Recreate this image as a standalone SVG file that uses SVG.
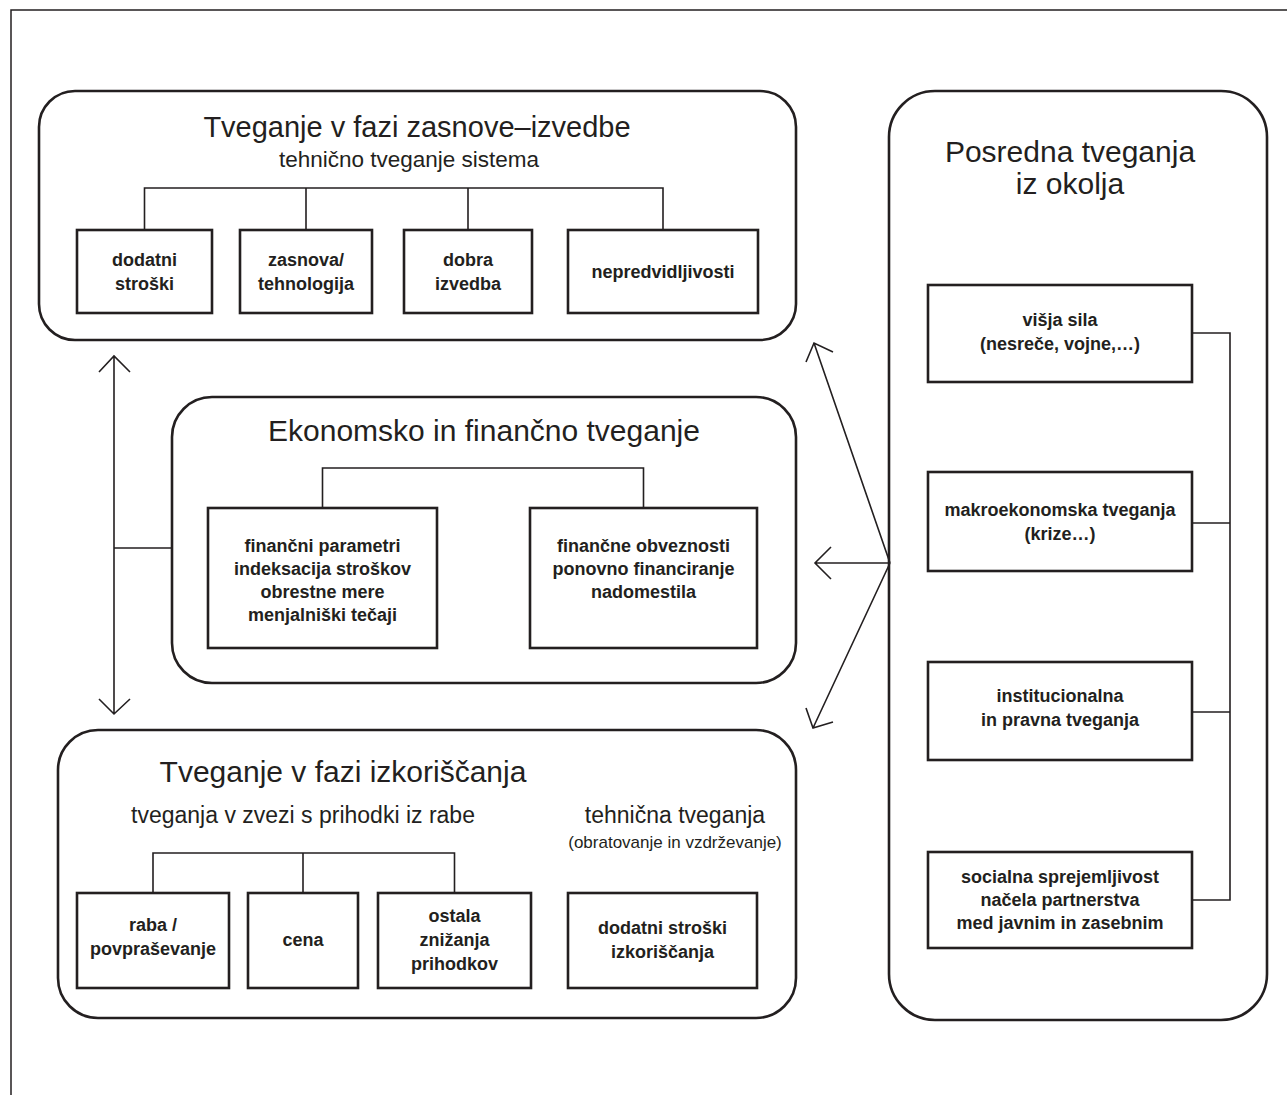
<svg xmlns="http://www.w3.org/2000/svg" width="1287" height="1095" viewBox="0 0 1287 1095">
<style>
.big{fill:none;stroke:#231f20;stroke-width:2.6}
.box{fill:#fff;stroke:#231f20;stroke-width:2.6}
.ln{fill:none;stroke:#231f20;stroke-width:1.6}
.frame{fill:none;stroke:#231f20;stroke-width:1.5}
text{font-family:"Liberation Sans",Arial,sans-serif;fill:#231f20;text-anchor:middle}
.t{font-size:30px}
.s{font-size:23px}
.xs{font-size:17px}
.b{font-size:18px;font-weight:bold}
</style>
<rect width="1287" height="1095" fill="#fff"/>
<path class="frame" d="M11,1095 V10 H1287"/>

<g id="phase-design">
<rect class="big" x="39" y="91" width="757" height="249" rx="36"/>
<text class="t" x="417" y="137" style="font-size:29px">Tveganje v fazi zasnove–izvedbe</text>
<text class="s" x="409" y="167" style="font-size:22.5px">tehnično tveganje sistema</text>
</g>
<g id="n-dodatni"><rect class="box" x="77" y="230" width="135" height="83"/><text class="b" x="144.5" y="266">dodatni</text><text class="b" x="144.5" y="290">stroški</text></g>
<g id="n-zasnova"><rect class="box" x="240" y="230" width="132" height="83"/><text class="b" x="306" y="266">zasnova/</text><text class="b" x="306" y="290">tehnologija</text></g>
<g id="n-dobra"><rect class="box" x="404" y="230" width="128" height="83"/><text class="b" x="468" y="266">dobra</text><text class="b" x="468" y="290">izvedba</text></g>
<g id="n-nepred"><rect class="box" x="568" y="230" width="190" height="83"/><text class="b" x="663" y="278">nepredvidljivosti</text></g>

<g id="phase-econ">
<rect class="big" x="172" y="397" width="624" height="286" rx="40"/>
<text class="t" x="484" y="441">Ekonomsko in finančno tveganje</text>
</g>
<g id="n-finparam"><rect class="box" x="208" y="508" width="229" height="140"/>
<text class="b" x="322.5" y="552">finančni parametri</text><text class="b" x="322.5" y="575">indeksacija stroškov</text><text class="b" x="322.5" y="598">obrestne mere</text><text class="b" x="322.5" y="621">menjalniški tečaji</text></g>
<g id="n-finobv"><rect class="box" x="530" y="508" width="227" height="140"/>
<text class="b" x="643.5" y="552">finančne obveznosti</text><text class="b" x="643.5" y="575">ponovno financiranje</text><text class="b" x="643.5" y="598">nadomestila</text></g>

<g id="phase-operation">
<rect class="big" x="58" y="730" width="738" height="288" rx="40"/>
<text class="t" x="343" y="782">Tveganje v fazi izkoriščanja</text>
<text class="s" x="303" y="823">tveganja v zvezi s prihodki iz rabe</text>
<text class="s" x="675" y="823">tehnična tveganja</text>
<text class="xs" x="675" y="848">(obratovanje in vzdrževanje)</text>
</g>
<g id="n-raba"><rect class="box" x="77" y="893" width="152" height="95"/><text class="b" x="153" y="931">raba /</text><text class="b" x="153" y="955">povpraševanje</text></g>
<g id="n-cena"><rect class="box" x="248" y="893" width="110" height="95"/><text class="b" x="303" y="946">cena</text></g>
<g id="n-ostala"><rect class="box" x="378" y="893" width="153" height="95"/><text class="b" x="454.5" y="922">ostala</text><text class="b" x="454.5" y="946">znižanja</text><text class="b" x="454.5" y="970">prihodkov</text></g>
<g id="n-dodatni-izk"><rect class="box" x="568" y="893" width="189" height="95"/><text class="b" x="662.5" y="934">dodatni stroški</text><text class="b" x="662.5" y="958">izkoriščanja</text></g>

<g id="environment">
<rect class="big" x="889" y="91" width="378" height="929" rx="46"/>
<text class="t" x="1070" y="162">Posredna tveganja</text>
<text class="t" x="1070" y="194">iz okolja</text>
</g>
<g id="n-visja"><rect class="box" x="928" y="285" width="264" height="97"/><text class="b" x="1060" y="326">višja sila</text><text class="b" x="1060" y="350">(nesreče, vojne,…)</text></g>
<g id="n-makro"><rect class="box" x="928" y="472" width="264" height="99"/><text class="b" x="1060" y="516">makroekonomska tveganja</text><text class="b" x="1060" y="540">(krize…)</text></g>
<g id="n-inst"><rect class="box" x="928" y="662" width="264" height="98"/><text class="b" x="1060" y="702">institucionalna</text><text class="b" x="1060" y="726">in pravna tveganja</text></g>
<g id="n-soc"><rect class="box" x="928" y="852" width="264" height="96"/><text class="b" x="1060" y="883">socialna sprejemljivost</text><text class="b" x="1060" y="906">načela partnerstva</text><text class="b" x="1060" y="929">med javnim in zasebnim</text></g>

<g id="connectors">
<path class="ln" d="M144.5,230 V188 H663 V230 M306,188 V230 M468,188 V230"/>
<path class="ln" d="M322.5,508 V468 H643.5 V508"/>
<path class="ln" d="M153,893 V853 H454.5 V893 M303,853 V893"/>
<path class="ln" d="M1192,333 H1230 V900 H1192 M1192,523 H1230 M1192,712 H1230"/>
<path class="ln" d="M114,356 V714 M99,372 L114,356 L130,372 M99,699 L114,714 L130,699 M114,548 H172"/>
<path class="ln" d="M890,563 L814,343 M806,362 L814,343 L833,352"/>
<path class="ln" d="M890,563 H815 M831,547 L815,563 L831,579"/>
<path class="ln" d="M890,563 L813,728 M806,708 L813,728 L833,722"/>
</g>
</svg>
